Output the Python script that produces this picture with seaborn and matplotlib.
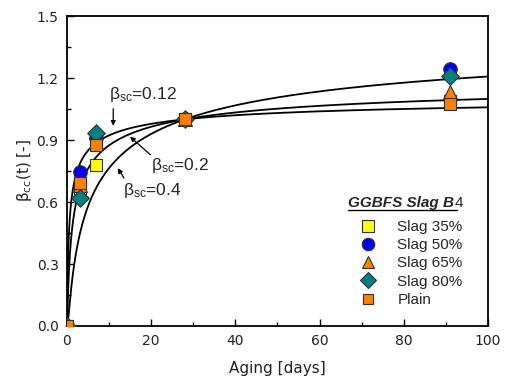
import numpy as np
import pandas as pd
import matplotlib
matplotlib.use("Agg")
import matplotlib.pyplot as plt
from matplotlib.lines import Line2D
from matplotlib.ticker import MultipleLocator
import seaborn as sns

# ---- data ----
ages = [0, 3, 7, 28, 91]
slag35 = [0.0, 0.66, 0.78, 1.00, 1.09]
slag50 = [0.0, 0.745, 0.91, 1.00, 1.245]
slag65 = [0.0, 0.68, 0.89, 1.00, 1.13]
slag80 = [0.0, 0.62, 0.935, 1.00, 1.21]
plain = [0.0, 0.69, 0.875, 1.00, 1.075]
series_names = ["Slag 35%", "Slag 50%", "Slag 65%", "Slag 80%", "Plain"]
s_values = [0.12, 0.2, 0.4]

df = pd.DataFrame({
    "age": ages * 5,
    "beta": slag35 + slag50 + slag65 + slag80 + plain,
    "mix": sum([[n] * len(ages) for n in series_names], []),
})

colors = {"Slag 35%": "#FFFF00", "Slag 50%": "#0000FF", "Slag 65%": "#FF7F00",
          "Slag 80%": "#008080", "Plain": "#FF7F00"}
markers = {"Slag 35%": "s", "Slag 50%": "o", "Slag 65%": "^", "Slag 80%": "D", "Plain": "s"}
sizes = {"Slag 35%": 75, "Slag 50%": 95, "Slag 65%": 100, "Slag 80%": 80, "Plain": 75}

sns.set_style("ticks")
plt.rcParams["font.family"] = ["DejaVu Sans"]
plt.rcParams["mathtext.default"] = "regular"

fig = plt.figure(figsize=(5.07, 3.82), dpi=100)
ax = fig.add_axes([0.132, 0.1466, 0.8305, 0.8115])

# fib model curves  beta_cc = exp(s (1 - sqrt(28/t)))
t = np.linspace(0.02, 100, 2000)
for s in s_values:
    curve = pd.DataFrame({"t": t, "b": np.exp(s * (1 - np.sqrt(28 / t)))})
    sns.lineplot(data=curve, x="t", y="b", color="black", lw=1.3, ax=ax, zorder=2)

for n in series_names:
    sub = df[df["mix"] == n]
    sns.scatterplot(data=sub, x="age", y="beta", color=colors[n], marker=markers[n],
                    s=sizes[n], edgecolor="#333333", linewidth=0.8, ax=ax, zorder=3,
                    legend=False)

ax.set_xlim(0, 100)
ax.set_ylim(0, 1.5)
ax.xaxis.set_major_locator(MultipleLocator(20))
ax.xaxis.set_minor_locator(MultipleLocator(10))
ax.yaxis.set_major_locator(MultipleLocator(0.3))
ax.yaxis.set_minor_locator(MultipleLocator(0.15))
ax.yaxis.set_major_formatter(matplotlib.ticker.FormatStrFormatter("%.1f"))
ax.tick_params(which="both", direction="in", top=False, right=False, labelsize=10,
               colors="black", labelcolor="#222222")
ax.tick_params(which="major", length=5, width=1, pad=6)
ax.tick_params(which="minor", length=3, width=1)
for sp in ax.spines.values():
    sp.set_linewidth(1.3)
    sp.set_color("black")

ax.set_xlabel("Aging [days]", fontsize=11, color="#222222", labelpad=9)
ax.set_ylabel(r"$\beta_{cc}$(t) [-]", fontsize=11, color="#222222", labelpad=2)

# annotations
arrow = dict(arrowstyle="-|>", color="black", lw=0.9, mutation_scale=7)
ann_font = dict(family="Liberation Sans", fontsize=12.5)
ax.annotate("", xy=(11.0, 0.955), xytext=(11.0, 1.065), arrowprops=arrow)
ax.text(10.0, 1.075, r"$\beta_{sc}$=0.12", va="bottom", ha="left", **ann_font)
ax.annotate("", xy=(14.5, 0.925), xytext=(20.3, 0.82), arrowprops=arrow)
ax.text(20.0, 0.775, r"$\beta_{sc}$=0.2", va="center", ha="left", **ann_font)
ax.annotate("", xy=(11.7, 0.775), xytext=(13.9, 0.705), arrowprops=arrow)
ax.text(13.2, 0.655, r"$\beta_{sc}$=0.4", va="center", ha="left", **ann_font)

# legend
handles = [Line2D([], [], ls="none", marker=markers[n], color=colors[n],
                  markeredgecolor="#333333", markeredgewidth=0.8,
                  markersize=(9 if n != "Plain" else 7.5) if markers[n] != "D" else 8)
           for n in series_names]
leg = ax.legend(handles, series_names, loc="upper left", bbox_to_anchor=(0.665, 0.362),
                frameon=False, handletextpad=0.9, labelspacing=0.28,
                borderaxespad=0, prop={"family": "Liberation Sans", "size": 11})
title = ax.text(0.668, 0.384, "GGBFS Slag B", transform=ax.transAxes, fontsize=11,
                family="Liberation Sans", weight="bold", style="italic", va="baseline")
ax.annotate("4", xy=(1, 0), xycoords=title, va="bottom", ha="left", fontsize=11,
            family="Liberation Sans")
ax.plot([0.668, 0.927], [0.374, 0.374], transform=ax.transAxes, color="black",
        lw=1.0, clip_on=False)

fig.savefig("out.png", dpi=100)
